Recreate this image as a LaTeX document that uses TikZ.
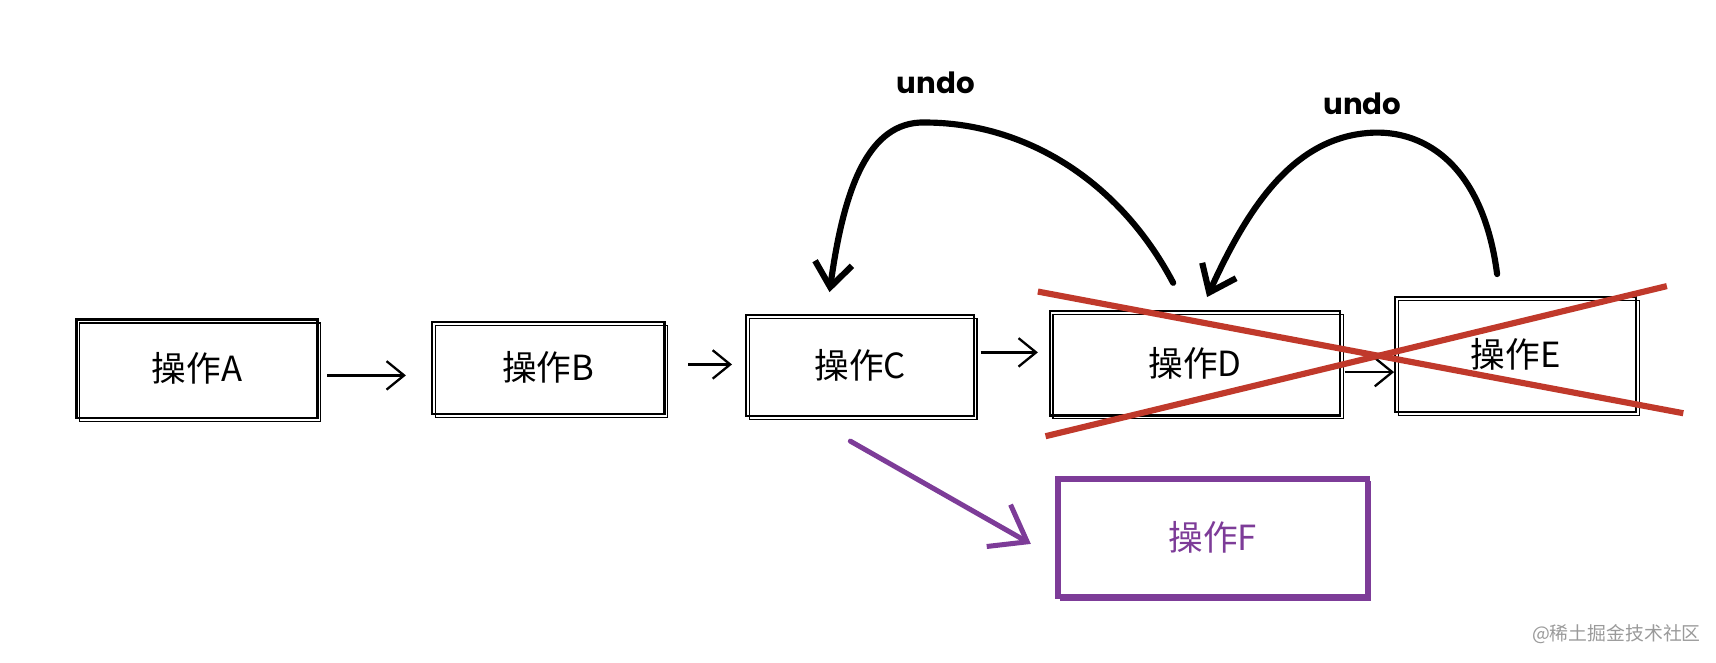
\documentclass[tikz,border=0pt]{standalone}
\usepackage{fontspec}
\usetikzlibrary{arrows.meta}
\newfontfamily\cjk{Noto Sans CJK SC}
\newfontfamily\hand{Poppins}
\definecolor{crossRed}{HTML}{C0392B}
\definecolor{newPurple}{HTML}{7D3C98}
\definecolor{markGray}{HTML}{9A9A9A}

\tikzset{
  opbox/.style={draw, line width=0.6pt, font=\cjk\fontsize{9}{11}\selectfont,
    preaction={draw, line width=0.35pt, transform canvas={shift={(0.8pt,-0.9pt)}}}},
  thinarrow/.style={-{Straight Barb[length=1.6mm, width=2.6mm]}, line width=0.6pt},
  undoarrow/.style={-{Straight Barb[length=2.2mm, width=3.4mm]}, line width=1.6pt, line cap=round},
  crossline/.style={draw=crossRed, line width=1.6pt},
  undolabel/.style={font=\hand\bfseries\fontsize{7.6}{10}\selectfont},
}

\begin{document}
\begin{tikzpicture}[x=0.01cm, y=-0.01cm]
  \useasboundingbox (0,0) rectangle (1568,605);

  \node[opbox, minimum width=2.2cm, minimum height=0.9cm] (opA) at (180,337) {操作A};
  \node[opbox, minimum width=2.12cm, minimum height=0.84cm] (opB) at (501,336) {操作B};
  \node[opbox, minimum width=2.08cm, minimum height=0.92cm] (opC) at (786,334) {操作C};
  \node[opbox, minimum width=2.65cm, minimum height=0.95cm] (opD) at (1092,332) {操作D};
  \node[opbox, minimum width=2.2cm, minimum height=1.05cm] (opE) at (1385,324) {操作E};
  \node[opbox, draw=newPurple, text=newPurple, line width=1.4pt, minimum width=2.83cm, minimum height=1.08cm] (opF) at (1108,491) {操作F};

  \draw[thinarrow] ([shift={(8,6)}]opA.east) -- ([shift={(-23,7)}]opB.west);
  \draw[thinarrow] ([shift={(21,-3)}]opB.east) -- ([shift={(-12,-1)}]opC.west);
  \draw[thinarrow] ([shift={(5,-12)}]opC.east) -- ([shift={(-10,-10)}]opD.west);
  \draw[thinarrow] ([shift={(3,8)}]opD.east) -- ([shift={(0,16)}]opE.west);

  % undo: D back to C, E back to D
  \draw[undoarrow] ([shift={(-20,-25)}]opD.north)
    .. controls (1020,160) and (930,110) .. (840,112)
    .. controls (790,115) and (770,180) .. ([shift={(-28,-20)}]opC.north);
  \draw[undoarrow] ([shift={(-17,-20)}]opE.north)
    .. controls (1355,150) and (1300,115) .. (1245,122)
    .. controls (1180,130) and (1140,190) .. ([shift={(11,-12)}]opD.north);
  \node[undolabel] (undoC) at (855,76) {undo};
  \node[undolabel] (undoD) at (1245,95) {undo};

  % cross out D and E
  \draw[crossline] ([shift={(-10,-17)}]opD.north west) -- ([shift={(42,0)}]opE.south east);
  \draw[crossline] ([shift={(-3,18)}]opD.south west) -- ([shift={(27,-9)}]opE.north east);

  \draw[-{Straight Barb[length=3mm, width=4.4mm]}, draw=newPurple, line width=1.3pt, line cap=round]
    ([shift={(-9,22)}]opC.south) -- ([shift={(-22,6)}]opF.west);

  \node[text=markGray, font=\cjk\fontsize{4.9}{6}\selectfont] (mark) at (1477,579) {@稀土掘金技术社区};
\end{tikzpicture}
\end{document}
